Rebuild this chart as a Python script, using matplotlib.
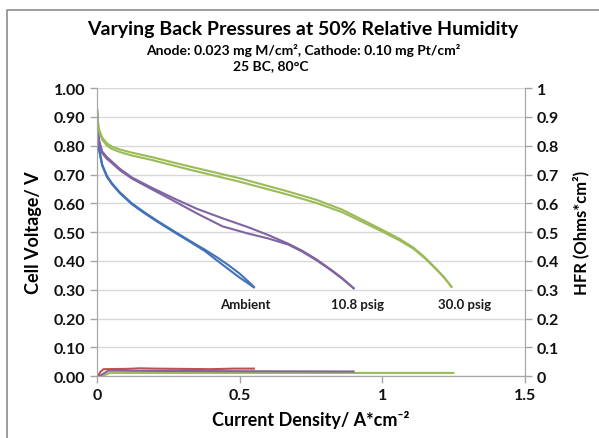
import matplotlib

matplotlib.use("Agg")
import matplotlib.pyplot as plt
from matplotlib.lines import Line2D

FONT = ["Lato", "DejaVu Sans"]
plt.rcParams.update(
    {
        "font.family": FONT,
        "font.weight": "bold",
        "axes.grid": False,
    }
)

BLUE = "#4472B8"
RED = "#C0504D"
GREEN = "#9BBB59"
PURPLE = "#8064A2"

# polarization curves, two scans per back pressure
amb_i = [0.0, 0.002, 0.007, 0.018, 0.035, 0.052, 0.08, 0.122, 0.16, 0.21, 0.27, 0.33, 0.38, 0.42, 0.46, 0.50, 0.53, 0.55]
amb_v1 = [0.925, 0.85, 0.79, 0.735, 0.695, 0.67, 0.638, 0.60, 0.573, 0.54, 0.503, 0.467, 0.438, 0.413, 0.386, 0.356, 0.329, 0.31]
amb_v2 = [0.92, 0.845, 0.785, 0.731, 0.691, 0.667, 0.635, 0.597, 0.57, 0.537, 0.50, 0.464, 0.433, 0.402, 0.372, 0.342, 0.322, 0.308]

p108_i = [0.0, 0.002, 0.007, 0.018, 0.035, 0.052, 0.08, 0.122, 0.19, 0.27, 0.35, 0.44, 0.53, 0.60, 0.67, 0.72, 0.77, 0.82, 0.86, 0.90]
p108_v1 = [0.92, 0.87, 0.82, 0.78, 0.76, 0.745, 0.72, 0.69, 0.655, 0.617, 0.581, 0.548, 0.517, 0.49, 0.46, 0.435, 0.405, 0.37, 0.34, 0.305]
p108_v2 = [0.915, 0.865, 0.812, 0.774, 0.754, 0.74, 0.715, 0.686, 0.65, 0.608, 0.565, 0.52, 0.495, 0.478, 0.457, 0.432, 0.402, 0.368, 0.338, 0.305]

p300_i = [0.0, 0.002, 0.007, 0.018, 0.035, 0.052, 0.08, 0.122, 0.19, 0.32, 0.50, 0.67, 0.77, 0.86, 0.94, 1.00, 1.06, 1.11, 1.15, 1.19, 1.22, 1.243]
p300_v1 = [0.93, 0.89, 0.858, 0.828, 0.808, 0.797, 0.787, 0.776, 0.761, 0.729, 0.687, 0.641, 0.612, 0.578, 0.538, 0.508, 0.477, 0.446, 0.412, 0.372, 0.34, 0.31]
p300_v2 = [0.925, 0.885, 0.851, 0.821, 0.80, 0.789, 0.778, 0.766, 0.751, 0.718, 0.675, 0.63, 0.601, 0.569, 0.531, 0.502, 0.472, 0.442, 0.409, 0.37, 0.339, 0.31]

# high frequency resistance (right axis)
hfr_amb_i = [0.003, 0.012, 0.023, 0.10, 0.15, 0.20, 0.30, 0.40, 0.48, 0.55]
hfr_amb = [0.0, 0.015, 0.024, 0.025, 0.027, 0.026, 0.025, 0.024, 0.026, 0.026]
hfr_108_i = [0.008, 0.025, 0.04, 0.20, 0.50, 0.90]
hfr_108 = [0.0, 0.01, 0.019, 0.018, 0.017, 0.016]
hfr_300_i = [0.017, 0.045, 0.30, 0.80, 1.25]
hfr_300 = [0.0, 0.011, 0.011, 0.011, 0.011]

labels = ["Ambient", "10.8 psig", "30.0 psig"]
label_x = [0.52, 0.915, 1.29]
label_y = 0.25

y_ticks = [i / 10 for i in range(11)]
x_ticks = [0, 0.5, 1, 1.5]

fig = plt.figure(figsize=(5.99, 4.39), dpi=100)
ax = fig.add_axes([0.162, 0.141, 0.714, 0.656])
ax2 = ax.twinx()

for y in y_ticks:
    ax.axhline(y, color="#D9D9D9", lw=1.0, zorder=0)

lw = 1.5
ax.plot(amb_i, amb_v1, color=BLUE, lw=lw)
ax.plot(amb_i, amb_v2, color=BLUE, lw=lw)
ax.plot(p108_i, p108_v1, color=PURPLE, lw=lw)
ax.plot(p108_i, p108_v2, color=PURPLE, lw=lw)
ax.plot(p300_i, p300_v1, color=GREEN, lw=lw)
ax.plot(p300_i, p300_v2, color=GREEN, lw=lw)

ax2.plot(hfr_300_i, hfr_300, color=GREEN, lw=lw)
ax2.plot(hfr_108_i, hfr_108, color=PURPLE, lw=lw)
ax2.plot(hfr_amb_i, hfr_amb, color=RED, lw=lw)

for t, x in zip(labels, label_x):
    ax.text(x, label_y, t, ha="center", va="center", fontsize=9.5, fontweight="bold",
            family=FONT, color="#1a1a1a")

ax.set_xlim(0, 1.5)
ax.set_ylim(0, 1.0)
ax2.set_ylim(0, 1.0)
ax.set_xticks(x_ticks)
ax.set_xticklabels(["0", "0.5", "1", "1.5"])
ax.set_yticks(y_ticks)
ax.set_yticklabels([f"{v:.2f}" for v in y_ticks])
ax2.set_yticks(y_ticks)
ax2.set_yticklabels(["0"] + [f"{v:.1f}" for v in y_ticks[1:-1]] + ["1"])

for a in (ax, ax2):
    for s in a.spines.values():
        s.set_color("#A6A6A6")
    a.spines["top"].set_visible(False)
    a.tick_params(colors="#A6A6A6", labelcolor="#111111", labelsize=11.5, length=5, width=1, direction="out")

ax.set_xlabel("Current Density/ A*cm⁻²", fontsize=13, fontweight="bold", labelpad=6)
ax.set_ylabel("Cell Voltage/ V", fontsize=13, fontweight="bold", labelpad=8)
ax2.set_ylabel("HFR (Ohms*cm²)", fontsize=12, fontweight="bold", labelpad=10)

fig.text(0.506, 0.932, "Varying Back Pressures at 50% Relative Humidity", ha="center", va="center",
         fontsize=14, fontweight="bold")
fig.text(0.506, 0.886, "Anode: 0.023 mg M/cm², Cathode: 0.10 mg Pt/cm²", ha="center", va="center",
         fontsize=10, fontweight="bold")
fig.text(0.452, 0.850, "25 BC, 80°C", ha="center", va="center", fontsize=10, fontweight="bold")

# chart-area border (left and top edges visible)
fig.add_artist(Line2D([0.012, 0.012, 1.0], [0.0, 0.975, 0.975], color="#8C8C8C", lw=1.2))

fig.savefig("out.png", dpi=100)
